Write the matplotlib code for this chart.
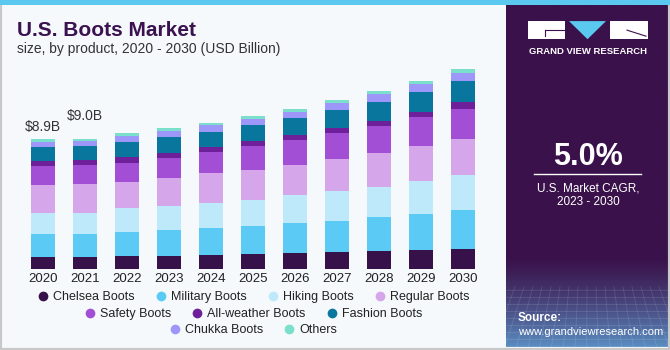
import matplotlib
matplotlib.use("Agg")
import matplotlib.pyplot as plt
import numpy as np
from matplotlib.patches import Rectangle, Polygon
from matplotlib.lines import Line2D

plt.rcParams['font.family'] = ['Liberation Sans', 'DejaVu Sans']

years = ['2020', '2021', '2022', '2023', '2024', '2025', '2026', '2027', '2028', '2029', '2030']
segments = ['Chelsea Boots', 'Military Boots', 'Hiking Boots', 'Regular Boots', 'Safety Boots',
            'All-weather Boots', 'Fashion Boots', 'Chukka Boots', 'Others']
chelsea = [0.80, 0.82, 0.89, 0.89, 0.94, 1.05, 1.10, 1.17, 1.21, 1.30, 1.37]
military = [1.60, 1.60, 1.67, 1.78, 1.85, 1.90, 2.04, 2.15, 2.36, 2.49, 2.70]
hiking = [1.42, 1.44, 1.62, 1.67, 1.76, 1.81, 1.92, 2.01, 2.08, 2.24, 2.38]
regular = [1.92, 1.95, 1.81, 1.92, 2.06, 2.06, 2.11, 2.22, 2.31, 2.40, 2.47]
safety = [1.35, 1.33, 1.30, 1.37, 1.42, 1.62, 1.72, 1.81, 1.88, 1.99, 2.08]
allweather = [0.32, 0.34, 0.41, 0.37, 0.34, 0.32, 0.32, 0.32, 0.32, 0.37, 0.46]
fashion = [0.98, 0.98, 1.03, 1.08, 1.05, 1.10, 1.14, 1.24, 1.30, 1.37, 1.42]
chukka = [0.30, 0.32, 0.37, 0.37, 0.46, 0.46, 0.46, 0.50, 0.53, 0.57, 0.59]
others = [0.21, 0.18, 0.21, 0.21, 0.14, 0.18, 0.18, 0.18, 0.21, 0.21, 0.23]
colors = ['#371149', '#5bcbf5', '#bde9fa', '#d5a6ea', '#a24fd6', '#6e1f9a', '#09769e', '#9d97fa', '#7adfcb']
labels = {0: '$8.9B', 1: '$9.0B'}

series = [chelsea, military, hiking, regular, safety, allweather, fashion, chukka, others]

W, H = 670, 350
fig = plt.figure(figsize=(6.7, 3.5), dpi=100)
fig.patch.set_facecolor('#f5f9fc')

# frame / strips
fig.patches.append(Rectangle((0, 0), 1, 1, transform=fig.transFigure, fill=False,
                             edgecolor='#c8c8c8', lw=3, zorder=0))
fig.patches.append(Rectangle((0, 1 - 5 / H), 1, 5 / H, transform=fig.transFigure,
                             facecolor='#5bc8f0', edgecolor='none', zorder=5))

ax = fig.add_axes([22 / W, 81 / H, 462 / W, 233 / H])
ax.set_facecolor('none')
x = np.arange(len(years))
bottom = np.zeros(len(years))
for name, vals, c in zip(segments, series, colors):
    ax.bar(x, vals, 0.57, bottom=bottom, color=c, label=name, edgecolor='none')
    bottom += np.array(vals)
for i, t in labels.items():
    off = 0.35 if i == 0 else 1.05
    ax.text(x[i], bottom[i] + off, t, ha='center', va='bottom', fontsize=10, color='#333333')
ax.set_xlim(-0.5, 10.5)
ax.set_ylim(0, 16)
ax.set_xticks(x)
ax.set_xticklabels(years, fontsize=9.5, color='#222222')
ax.tick_params(axis='x', length=0, pad=3)
ax.set_yticks([])
for s in ax.spines.values():
    s.set_visible(False)

# legend rows
handles = [Line2D([], [], marker='o', ls='none', markersize=7, markerfacecolor=c,
                  markeredgecolor='none') for c in colors]
rows = [(0, 4, 297), (4, 7, 314), (7, 9, 330)]
for a, b, yy in rows:
    leg = fig.legend(handles[a:b], segments[a:b], loc='center', ncol=b - a,
                     bbox_to_anchor=(253 / W, 1 - yy / H), frameon=False, fontsize=9,
                     handletextpad=0.3, columnspacing=1.6, handlelength=1.0,
                     labelcolor='#222222')

fig.text(17 / W, 1 - 30 / H, 'U.S. Boots Market', fontsize=15, fontweight='bold',
         color='#3b1250', va='center', ha='left')
fig.text(17 / W, 1 - 49 / H, 'size, by product, 2020 - 2030 (USD Billion)', fontsize=10,
         color='#333333', va='center', ha='left')

# right panel
pax = fig.add_axes([506 / W, 3 / H, 164 / W, 342 / H])
pax.set_xlim(506, 670)
pax.set_ylim(345, 5)
pax.axis('off')
top = np.array([0x3a, 0x11, 0x4a]) / 255
low = np.array([0x5a, 0x8c, 0xc0]) / 255
yy = np.linspace(5, 345, 200)
t = np.clip((yy - 255) / 90, 0, 1) ** 1.3
grad = (top[None, :] * (1 - t[:, None]) + low[None, :] * t[:, None])[:, None, :]
pax.imshow(grad, extent=(506, 670, 345, 5), aspect='auto', zorder=0)
for gx in np.arange(506, 670, 9):
    pax.plot([gx, gx + (gx - 588) * 0.3], [285, 345], color='white', alpha=0.12, lw=0.6)
for gy in np.arange(288, 345, 7):
    pax.plot([506, 670], [gy, gy], color='white', alpha=0.12, lw=0.6)

pax.add_patch(Rectangle((528, 21), 37, 18, facecolor='white', edgecolor='none'))
pax.add_patch(Rectangle((610, 21), 38, 18, facecolor='white', edgecolor='none'))
pax.add_patch(Polygon([(569, 21), (606, 21), (587.5, 39)], facecolor='#5bc8f0', edgecolor='none'))
pax.plot([545, 565], [30, 30], color='#3a114a', lw=0.8)
pax.plot([545, 545], [30, 36], color='#3a114a', lw=0.8)
pax.plot([627, 646], [30, 36], color='#3a114a', lw=0.8)
pax.text(588, 51, 'GRAND VIEW RESEARCH', color='white', fontsize=6.8, fontweight='bold',
         ha='center', va='center')
pax.text(588, 156, '5.0%', color='white', fontsize=22, fontweight='bold', ha='center', va='center')
pax.plot([534, 641], [173, 173], color='white', lw=1)
pax.text(588, 187, 'U.S. Market CAGR,', color='white', fontsize=8.5, ha='center', va='center')
pax.text(588, 201, '2023 - 2030', color='white', fontsize=8.5, ha='center', va='center')
pax.text(518, 316, 'Source:', color='white', fontsize=8.5, fontweight='bold', ha='left', va='center')
pax.text(518, 330, 'www.grandviewresearch.com', color='white', fontsize=8, ha='left', va='center')

fig.savefig('out.png', dpi=100, facecolor=fig.get_facecolor())
